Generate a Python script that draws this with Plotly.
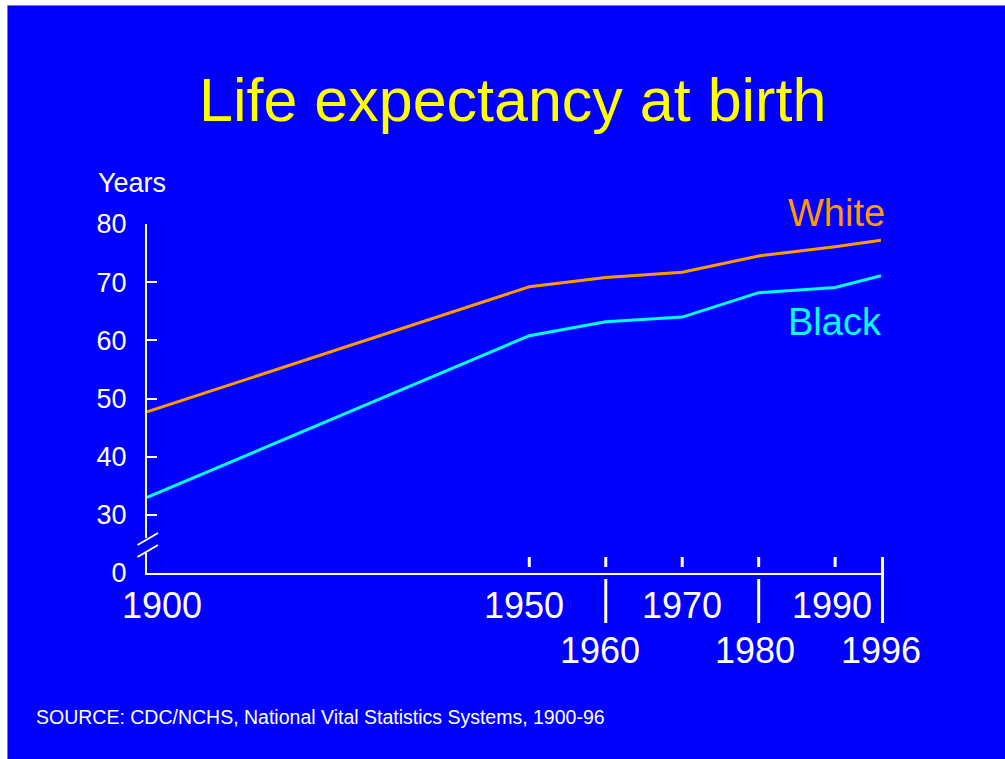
import plotly.graph_objects as go

# ---- data ----
years = [1900, 1950, 1960, 1970, 1980, 1990, 1996]
white = [47.7, 69.2, 70.8, 71.7, 74.5, 76.1, 77.2]
black = [33.0, 60.8, 63.2, 64.0, 68.2, 69.1, 71.1]

y_tickvals = [20, 30, 40, 50, 60, 70, 80]
y_ticktext = ["0", "30", "40", "50", "60", "70", "80"]

minor_ticks = [1950, 1960, 1970, 1980, 1990]
row1_labels = [1900, 1950, 1970, 1990]
row2_labels = [1960, 1980, 1996]
separators = [1960, 1980]

# ---- layout geometry (screen pixels) ----
W, H = 1005, 759
L, R, T, B = 147, 881, 224, 573
PW, PH = R - L, B - T

def px(x):
    return (x - L) / PW

def py(y):
    return (B - y) / PH

BLUE = "#0000FF"
ORANGE = "#FF9900"
CYAN = "#00FFFF"
FONT = "Liberation Sans, Arial, sans-serif"

fig = go.Figure()
fig.add_trace(go.Scatter(x=years, y=white, mode="lines",
                         line=dict(color=ORANGE, width=3), showlegend=False))
fig.add_trace(go.Scatter(x=years, y=black, mode="lines",
                         line=dict(color=CYAN, width=3), showlegend=False))

shapes = []
# slide background with grey top/left border
shapes.append(dict(type="rect", xref="paper", yref="paper",
                   x0=px(7.5), x1=px(1012), y0=py(5.5), y1=py(770),
                   fillcolor=BLUE, line=dict(color="#808080", width=1), layer="below"))
# small inside ticks on x axis
for yr in minor_ticks:
    shapes.append(dict(type="line", xref="x", yref="paper", x0=yr, x1=yr,
                       y0=py(567), y1=py(557), line=dict(color="white", width=3)))
# long separators below axis
for yr in separators:
    shapes.append(dict(type="line", xref="x", yref="paper", x0=yr, x1=yr,
                       y0=py(579), y1=py(623), line=dict(color="white", width=3)))
shapes.append(dict(type="line", xref="paper", yref="paper", x0=px(882.5), x1=px(882.5),
                   y0=py(557), y1=py(623), line=dict(color="white", width=3)))
# axis break
shapes.append(dict(type="rect", xref="paper", yref="paper",
                   x0=px(143), x1=px(151), y0=py(538), y1=py(553),
                   fillcolor=BLUE, line=dict(width=0), layer="above"))
shapes.append(dict(type="line", xref="paper", yref="paper",
                   x0=px(137.5), y0=py(545), x1=px(158), y1=py(533),
                   line=dict(color="white", width=2)))
shapes.append(dict(type="line", xref="paper", yref="paper",
                   x0=px(137.5), y0=py(557), x1=px(158), y1=py(545),
                   line=dict(color="white", width=2)))

annotations = []
shift1 = {1900: 15, 1950: -5, 1970: 0, 1990: -3}
for yr in row1_labels:
    annotations.append(dict(x=yr, y=py(605), xref="x", yref="paper", text=str(yr),
                            showarrow=False, xanchor="center", yanchor="middle",
                            xshift=shift1[yr], font=dict(size=36, color="white", family=FONT)))
shift2 = {1960: -6, 1980: -4, 1996: 0}
for yr in row2_labels:
    annotations.append(dict(x=yr, y=py(650), xref="x", yref="paper", text=str(yr),
                            showarrow=False, xanchor="center", yanchor="middle",
                            xshift=shift2[yr], font=dict(size=36, color="white", family=FONT)))
# title
annotations.append(dict(x=px(512), y=py(100), xref="paper", yref="paper",
                        text="Life expectancy at birth", showarrow=False,
                        xanchor="center", yanchor="middle",
                        font=dict(size=61, color="#FFFF00", family=FONT)))
# y axis title
annotations.append(dict(x=px(96), y=py(183), xref="paper", yref="paper",
                        text="Years", showarrow=False, xanchor="left", yanchor="middle",
                        font=dict(size=27, color="white", family=FONT)))
# series labels
annotations.append(dict(x=px(836), y=py(213), xref="paper", yref="paper",
                        text="White", showarrow=False, xanchor="center", yanchor="middle",
                        font=dict(size=38, color=ORANGE, family=FONT)))
annotations.append(dict(x=px(835), y=py(322), xref="paper", yref="paper",
                        text="Black", showarrow=False, xanchor="center", yanchor="middle",
                        font=dict(size=38, color=CYAN, family=FONT)))
# source
annotations.append(dict(x=px(34), y=py(717), xref="paper", yref="paper",
                        text="SOURCE: CDC/NCHS, National Vital Statistics Systems, 1900-96",
                        showarrow=False, xanchor="left", yanchor="middle",
                        font=dict(size=19.5, color="white", family=FONT)))

fig.update_layout(
    width=W, height=H,
    margin=dict(l=L, r=W - R, t=T, b=H - B, pad=0),
    paper_bgcolor="white",
    plot_bgcolor="rgba(0,0,0,0)",
    showlegend=False,
    shapes=shapes,
    annotations=annotations,
    xaxis=dict(range=[1900, 1996], showline=True, linecolor="white", linewidth=2,
               showgrid=False, zeroline=False, ticks="", showticklabels=False,
               fixedrange=True),
    yaxis=dict(range=[20, 80], showline=True, linecolor="white", linewidth=2,
               showgrid=False, zeroline=False, ticks="inside", ticklen=10,
               tickwidth=2, tickcolor="white", tickvals=y_tickvals, ticktext=y_ticktext,
               tickfont=dict(size=27, color="white", family=FONT),
               ticklabelstandoff=13, fixedrange=True),
)

fig.write_html(
    "out.html",
    config={"displayModeBar": False},
    post_script="document.body.style.margin='0';document.body.style.overflow='hidden';",
)
